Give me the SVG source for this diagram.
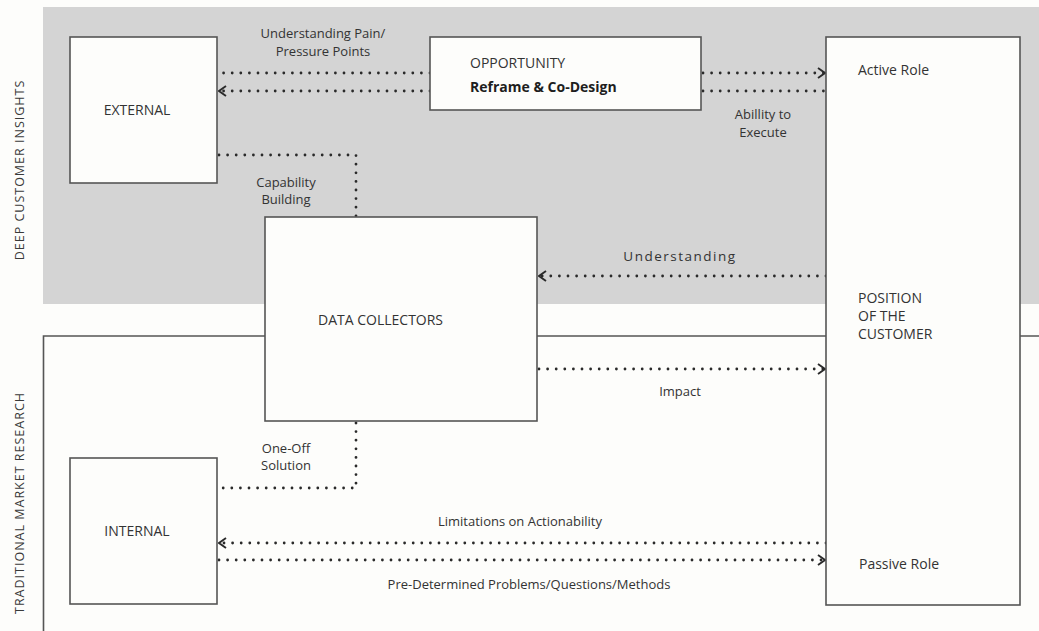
<svg xmlns="http://www.w3.org/2000/svg" width="1039" height="631" viewBox="0 0 1039 631">
<defs>
<style>
.box{fill:#fdfdfb;stroke:#555;stroke-width:1.6}
.t{font-family:"Open Sans","Noto Sans",sans-serif;font-size:14px;fill:#333}
.lbl{font-family:"Open Sans","Noto Sans",sans-serif;font-size:13px;fill:#333}
.dot{fill:none;stroke:#2a2a2a;stroke-width:2.8;stroke-linecap:round;stroke-dasharray:0 8.6}
.side{font-family:"Open Sans","Noto Sans",sans-serif;font-size:12.5px;fill:#3a3a3a;letter-spacing:1px}
</style>
<marker id="arr" viewBox="0 0 10 12" refX="9" refY="6" markerWidth="10" markerHeight="12" markerUnits="userSpaceOnUse" orient="auto">
<path d="M2,1 L9,6 L2,11" fill="none" stroke="#2a2a2a" stroke-width="1.9"/>
</marker>
</defs>
<rect width="1039" height="631" fill="#fdfdfb"/>
<rect x="43" y="7" width="996" height="297" fill="#d4d4d4"/>
<path d="M1039,336 L43.5,336 L43.5,631" fill="none" stroke="#555" stroke-width="1.6"/>
<text class="side" transform="translate(24,170) rotate(-90)" text-anchor="middle">DEEP CUSTOMER INSIGHTS</text>
<text class="side" transform="translate(24,503) rotate(-90)" text-anchor="middle">TRADITIONAL MARKET RESEARCH</text>

<g id="connectors">
<path class="dot" d="M430,73 L220,73"/>
<path class="dot" d="M430,91 L219,91" marker-end="url(#arr)"/>
<path class="dot" d="M703,73 L825,73" marker-end="url(#arr)"/>
<path class="dot" d="M703,91 L826,91"/>
<path class="dot" d="M219,155 L356,155 L356,217"/>
<path class="dot" d="M826,276 L539,276" marker-end="url(#arr)"/>
<path class="dot" d="M539,369 L825,369" marker-end="url(#arr)"/>
<path class="dot" d="M356,423 L356,488 L219,488"/>
<path class="dot" d="M826,543 L219,543" marker-end="url(#arr)"/>
<path class="dot" d="M219,560 L825,560" marker-end="url(#arr)"/>
<text class="lbl" x="323" y="38" text-anchor="middle">Understanding Pain/</text>
<text class="lbl" x="323" y="56" text-anchor="middle">Pressure Points</text>
<text class="lbl" x="763" y="119" text-anchor="middle">Abillity to</text>
<text class="lbl" x="763" y="137" text-anchor="middle">Execute</text>
<text class="lbl" x="286" y="187" text-anchor="middle">Capability</text>
<text class="lbl" x="286" y="204" text-anchor="middle">Building</text>
<text class="lbl" x="680" y="261" text-anchor="middle" style="font-size:13.5px;letter-spacing:1.5px">Understanding</text>
<text class="lbl" x="680" y="396" text-anchor="middle">Impact</text>
<text class="lbl" x="286" y="453" text-anchor="middle">One-Off</text>
<text class="lbl" x="286" y="470" text-anchor="middle">Solution</text>
<text class="lbl" x="520" y="526" text-anchor="middle">Limitations on Actionability</text>
<text class="lbl" x="529" y="589" text-anchor="middle">Pre-Determined Problems/Questions/Methods</text>
</g>

<g id="external">
<rect class="box" x="70" y="37" width="147" height="146"/>
<text class="t" x="137" y="115" text-anchor="middle">EXTERNAL</text>
</g>
<g id="opportunity">
<rect class="box" x="430" y="37" width="271" height="73"/>
<text class="t" x="470" y="68">OPPORTUNITY</text>
<text class="t" x="470" y="92" style="font-weight:bold;fill:#1e1e1e">Reframe &amp; Co-Design</text>
</g>
<g id="position">
<rect class="box" x="826" y="37" width="194" height="568"/>
<text class="t" x="858" y="75">Active Role</text>
<text class="t" x="858" y="303">POSITION</text>
<text class="t" x="858" y="321">OF THE</text>
<text class="t" x="858" y="339">CUSTOMER</text>
<text class="t" x="859" y="569">Passive Role</text>
</g>
<g id="data-collectors">
<rect class="box" x="265" y="217" width="272" height="204"/>
<text class="t" x="318" y="325">DATA COLLECTORS</text>
</g>
<g id="internal">
<rect class="box" x="70" y="458" width="147" height="146"/>
<text class="t" x="137" y="536" text-anchor="middle">INTERNAL</text>
</g>
</svg>
